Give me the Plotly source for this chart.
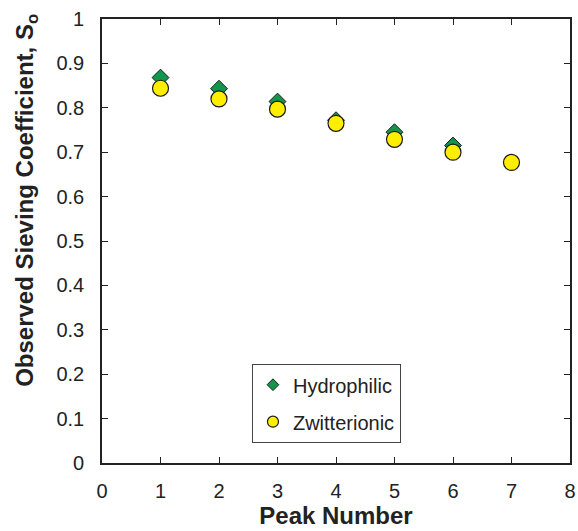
import plotly.graph_objects as go

peaks_h = [1, 2, 3, 4, 5, 6]
hydrophilic = [0.868, 0.843, 0.814, 0.772, 0.745, 0.715]
peaks_z = [1, 2, 3, 4, 5, 6, 7]
zwitterionic = [0.844, 0.820, 0.797, 0.765, 0.729, 0.700, 0.677]

FONT = "Liberation Sans, Arial"
GREEN = "#12964a"
YELLOW = "#ffee00"
EDGE = "#1a1a1a"

fig = go.Figure()
# data traces (circles drawn on top of diamonds)
fig.add_trace(go.Scatter(
    x=peaks_h, y=hydrophilic, mode="markers", name="Hydrophilic", showlegend=False,
    marker=dict(symbol="diamond", size=13, color=GREEN, line=dict(color=EDGE, width=1))))
fig.add_trace(go.Scatter(
    x=peaks_z, y=zwitterionic, mode="markers", name="Zwitterionic", showlegend=False,
    marker=dict(symbol="circle", size=16, color=YELLOW, line=dict(color=EDGE, width=1.2))))
# legend entries with smaller markers
fig.add_trace(go.Scatter(
    x=[None], y=[None], mode="markers", name="Hydrophilic", legendgroup="a",
    marker=dict(symbol="diamond", size=9, color=GREEN, line=dict(color=EDGE, width=1))))
fig.add_trace(go.Scatter(
    x=[None], y=[None], mode="markers", name="Zwitterionic", legendgroup="b",
    marker=dict(symbol="circle", size=11, color=YELLOW, line=dict(color=EDGE, width=1.2))))

axis_common = dict(showgrid=False, zeroline=False, showline=True, linecolor="#222",
                   linewidth=1.6, mirror="allticks", ticks="inside", ticklen=6,
                   tickcolor="#222", automargin=False,
                   tickfont=dict(family=FONT, size=20, color="#222"))

fig.update_xaxes(range=[0, 8], dtick=1, ticklabelstandoff=9,
                 title=dict(text="<b>Peak Number</b>", font=dict(family=FONT, size=24, color="#222"), standoff=1),
                 **axis_common)
fig.update_yaxes(range=[0, 1], dtick=0.1, ticklabelstandoff=12, **axis_common)

fig.add_annotation(
    text="<b>Observed Sieving Coefficient, S<sub>o</sub></b>",
    xref="paper", yref="paper", x=-0.163, y=0.592, xanchor="center", yanchor="middle",
    textangle=-90, showarrow=False, font=dict(family=FONT, size=24, color="#222"))

fig.update_layout(
    width=578, height=531,
    margin=dict(l=102, r=8, t=19, b=68),
    paper_bgcolor="white", plot_bgcolor="white",
    showlegend=True,
    legend=dict(x=0.32, y=0.223, xanchor="left", yanchor="top",
                bgcolor="white", bordercolor="#444", borderwidth=1.2,
                font=dict(family=FONT, size=20, color="#222"),
                itemsizing="trace", tracegroupgap=8),
)

fig.write_html("out.html")
